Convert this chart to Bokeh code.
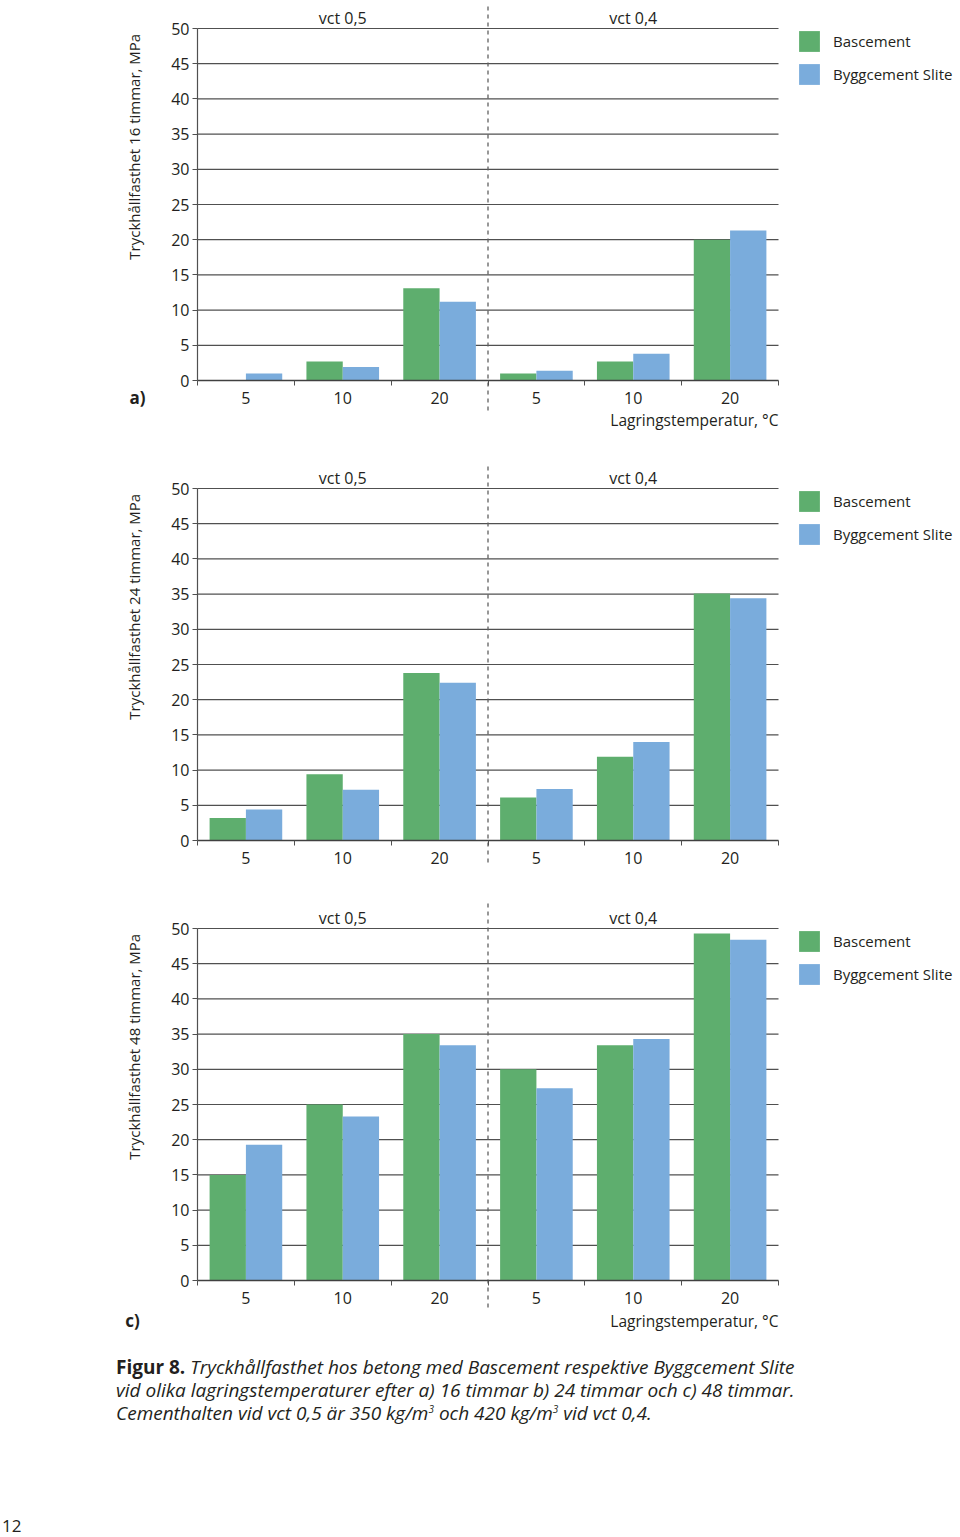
import math
from bokeh.plotting import figure
from bokeh.models import FixedTicker, Legend, LegendItem, ColumnDataSource, Div
from bokeh.layouts import column
from bokeh.transform import dodge
from bokeh.core.properties import value
from bokeh.embed import file_html
from bokeh.resources import INLINE

# ---------------- data ----------------
temps = ["5", "10", "20", "5", "10", "20"]
vct_groups = ["vct 0,5", "vct 0,4"]
series_names = ["Bascement", "Byggcement Slite"]

bascement_16h = [0.0, 2.7, 13.1, 1.0, 2.7, 20.0]
byggcement_16h = [1.0, 1.9, 11.2, 1.4, 3.8, 21.3]
bascement_24h = [3.2, 9.4, 23.8, 6.1, 11.9, 35.1]
byggcement_24h = [4.4, 7.2, 22.4, 7.3, 14.0, 34.4]
bascement_48h = [15.0, 25.0, 35.0, 30.0, 33.4, 49.3]
byggcement_48h = [19.3, 23.3, 33.4, 27.3, 34.3, 48.4]

y_titles = ["Tryckhållfasthet 16 timmar, MPa",
            "Tryckhållfasthet 24 timmar, MPa",
            "Tryckhållfasthet 48 timmar, MPa"]
x_title = "Lagringstemperatur, °C"
y_ticks = list(range(0, 51, 5))

# ---------------- style / layout ----------------
FONT = "Open Sans"
GREEN = "#5eae6e"
BLUE = "#7aacdc"
GRID = "#505050"
TEXT = "#231f20"
FIG_W = 960
AXIS_X = 197             # pixel position of the y axis
AXIS_END = 778           # right end of the plot area
PX = 352 / 50.0          # pixels per MPa
XPX = (AXIS_END - AXIS_X) / 6.0   # pixels per group


def make_panel(bas, byg, ytitle, fig_h, zero_px, dash_top_px, dash_bot_px,
               legend_top_px, letter, letter_dx, letter_dy, show_xtitle, xtitle_dy):
    y_hi = zero_px / PX
    y_lo = -(fig_h - zero_px) / PX
    x_lo = -AXIS_X / XPX
    x_hi = (FIG_W - AXIS_X) / XPX
    p = figure(width=FIG_W, height=fig_h, x_range=(x_lo, x_hi), y_range=(y_lo, y_hi),
               output_backend="svg", toolbar_location=None, min_border=0,
               min_border_left=0, min_border_right=0,
               min_border_top=0, min_border_bottom=0)
    p.outline_line_color = None
    p.background_fill_color = "white"
    p.border_fill_color = "white"
    p.xgrid.visible = False
    p.ygrid.visible = False

    # horizontal grid lines over the plot area only
    gy = y_ticks[1:]
    p.segment(x0=[0] * len(gy), y0=gy, x1=[6] * len(gy), y1=gy,
              line_color=GRID, line_width=1.2)

    centers = [i + 0.5 for i in range(len(temps))]
    src = ColumnDataSource(dict(x=centers, bas=bas, byg=byg, t=temps))
    bw = 0.375
    r1 = p.vbar(x=dodge("x", -bw / 2, range=p.x_range), top="bas", width=bw,
                source=src, fill_color=GREEN, line_color=None)
    r2 = p.vbar(x=dodge("x", bw / 2, range=p.x_range), top="byg", width=bw,
                source=src, fill_color=BLUE, line_color=None)

    # separator between the two vct groups
    p.segment(x0=[3], y0=[-dash_bot_px / PX], x1=[3], y1=[dash_top_px / PX],
              line_color="#606060", line_width=1.3, line_dash="4 4")

    # group labels
    p.text(x=[1.5, 4.5], y=[363 / PX] * 2,
           text=vct_groups, text_font=value(FONT), text_font_size=value("16px"),
           text_align="center", text_baseline="middle", text_color=TEXT)

    # y title
    p.text(x=[(133 - AXIS_X) / XPX], y=[33.2], text=[ytitle], angle=math.pi / 2,
           text_font=value(FONT), text_font_size=value("15px"),
           text_align="center", text_baseline="middle", text_color=TEXT)
    if show_xtitle:
        p.text(x=[6], y=[-xtitle_dy / PX], text=[x_title],
               text_font=value(FONT), text_font_size=value("15.5px"),
               text_align="right", text_baseline="middle", text_color=TEXT)
    if letter:
        p.text(x=[letter_dx / XPX], y=[-letter_dy / PX], text=[letter],
               text_font=value(FONT), text_font_size=value("17px"),
               text_font_style="bold",
               text_align="center", text_baseline="middle", text_color=TEXT)

    # x axis at y = 0
    xa = p.xaxis[0]
    xa.fixed_location = 0
    xa.bounds = (0, 6)
    xa.ticker = FixedTicker(ticks=centers, minor_ticks=list(range(0, 7)))
    xa.major_label_overrides = {c: t for c, t in zip(centers, temps)}
    xa.major_tick_out = 0
    xa.major_tick_in = 0
    xa.minor_tick_out = 5
    xa.minor_tick_in = 0
    xa.minor_tick_line_color = GRID
    xa.axis_line_color = "#404040"
    xa.axis_line_width = 1.3
    xa.major_label_standoff = 6
    xa.major_label_text_font = FONT
    xa.major_label_text_font_size = "16px"
    xa.major_label_text_color = TEXT

    # y axis at x = 0
    ya = p.yaxis[0]
    ya.fixed_location = 0
    ya.ticker = FixedTicker(ticks=y_ticks, minor_ticks=[])
    ya.bounds = (0, 50)
    ya.major_tick_out = 5
    ya.major_tick_in = 0
    ya.minor_tick_out = 0
    ya.minor_tick_in = 0
    ya.major_tick_line_color = GRID
    ya.axis_line_color = GRID
    ya.axis_line_width = 1.2
    ya.major_label_standoff = 3
    ya.major_label_text_font = FONT
    ya.major_label_text_font_size = "16px"
    ya.major_label_text_color = TEXT

    legend = Legend(items=[LegendItem(label=series_names[0], renderers=[r1]),
                           LegendItem(label=series_names[1], renderers=[r2])],
                    location=(796, fig_h - legend_top_px - 59),
                    glyph_width=26, glyph_height=26, label_height=26, spacing=7,
                    label_standoff=11, padding=0, margin=0,
                    border_line_color=None, background_fill_alpha=0,
                    label_text_font=FONT, label_text_font_size="15px",
                    label_text_color=TEXT)
    p.add_layout(legend)
    return p


pa = make_panel(bascement_16h, byggcement_16h, y_titles[0], 430, 380,
                380 - 3, 30, 28, "a)", 137 - AXIS_X, 17, True, 39)
pb = make_panel(bascement_24h, byggcement_24h, y_titles[1], 440, 410,
                840 - 463, 22, 58, None, 0, 0, False, 0)
pc = make_panel(bascement_48h, byggcement_48h, y_titles[2], 465, 410,
                1280 - 903, 27, 58, "c)", 132 - AXIS_X, 40, True, 40)

sup = "<span style=\"font-size:10px;vertical-align:7px;line-height:0\">3</span>"
caption = Div(width=FIG_W, height=165, text=(
    "<div style=\"font-family:'Open Sans';font-size:19px;line-height:23px;color:#231f20;"
    "margin-left:111px;padding-top:16px;white-space:nowrap\">"
    "<b>Figur 8.</b> <i>Tryckhållfasthet hos betong med Bascement respektive Byggcement Slite<br>"
    "vid olika lagringstemperaturer efter a) 16 timmar b) 24 timmar och c) 48 timmar.<br>"
    "Cementhalten vid vct 0,5 är 350 kg/m" + sup + " och 420 kg/m" + sup + " vid vct 0,4.</i></div>"))

page_no = Div(width=FIG_W, height=22, text=(
    "<div style=\"font-family:'Open Sans';font-size:17px;line-height:22px;color:#231f20;"
    "margin-left:-3px\">12</div>"))

layout = column(pa, pb, pc, caption, page_no, spacing=0)

open("out.html", "w").write(file_html(layout, INLINE))
